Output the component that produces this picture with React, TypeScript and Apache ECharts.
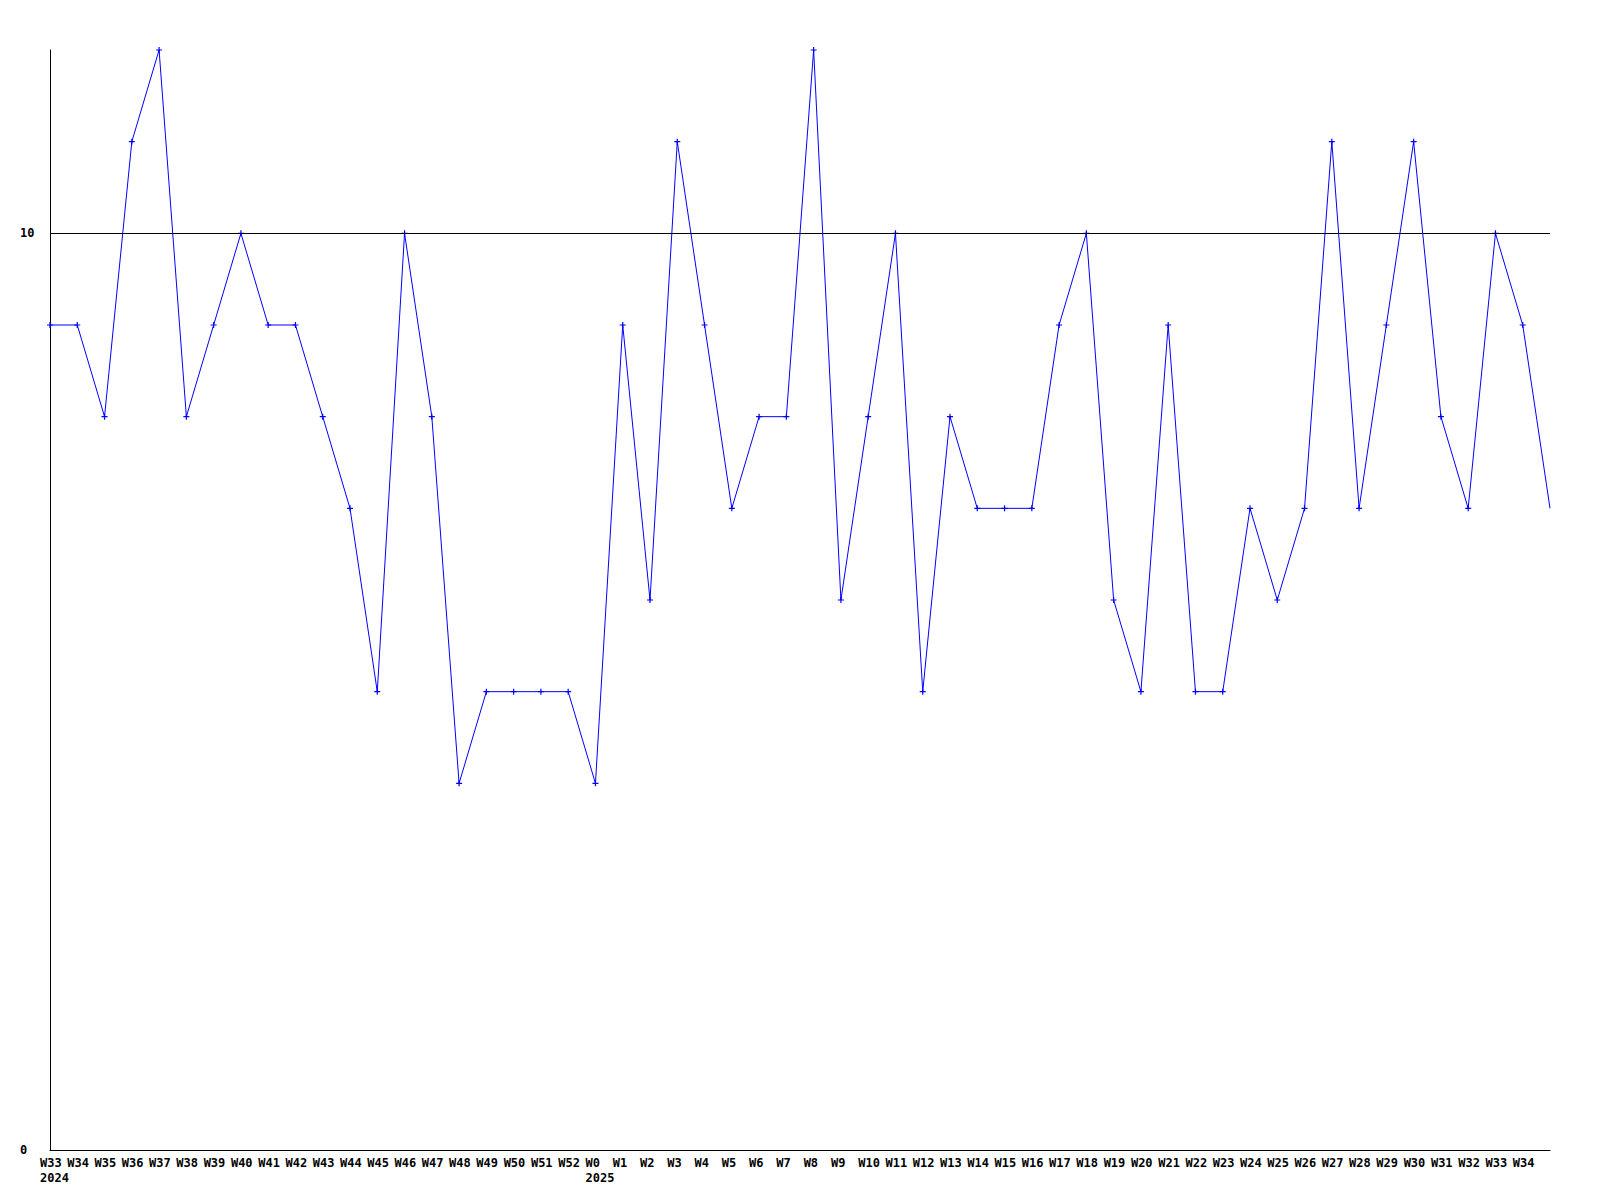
import React, { useEffect, useRef } from "react";
import * as echarts from "echarts";

const weeks = [
  "W33\n2024", "W34", "W35", "W36", "W37", "W38", "W39", "W40", "W41", "W42",
  "W43", "W44", "W45", "W46", "W47", "W48", "W49", "W50", "W51", "W52",
  "W0\n2025", "W1", "W2", "W3", "W4", "W5", "W6", "W7", "W8", "W9",
  "W10", "W11", "W12", "W13", "W14", "W15", "W16", "W17", "W18", "W19",
  "W20", "W21", "W22", "W23", "W24", "W25", "W26", "W27", "W28", "W29",
  "W30", "W31", "W32", "W33", "W34", "",
];

const values = [
  9, 9, 8, 11, 12, 8, 9, 10, 9, 9,
  8, 7, 5, 10, 8, 4, 5, 5, 5, 5,
  4, 9, 6, 11, 9, 7, 8, 8, 12, 6,
  8, 10, 5, 8, 7, 7, 7, 9, 10, 6,
  5, 9, 5, 5, 7, 6, 7, 11, 7, 9,
  11, 8, 7, 10, 9, 7,
];

const yMin = 0;
const yMax = 12;
const yInterval = 10;
const refLine = 10;

export default function App() {
  const ref = useRef<HTMLDivElement>(null);
  useEffect(() => {
    if (!ref.current) return;
    const chart = echarts.init(ref.current, null, { renderer: "svg" });
    const font = "'DejaVu Sans Mono', monospace";
    const data = values.map((v, i) =>
      i === values.length - 1 ? { value: v, symbol: "none" } : v
    );
    chart.setOption({
      animation: false,
      backgroundColor: "#ffffff",
      grid: { left: 50, right: 50, top: 50, bottom: 50, containLabel: false },
      xAxis: {
        type: "category",
        data: weeks,
        boundaryGap: false,
        axisLine: { show: true, lineStyle: { color: "#000", width: 1 } },
        axisTick: { show: false },
        splitLine: { show: false },
        axisLabel: {
          interval: 0,
          align: "left",
          padding: [0, 0, 0, -10],
          margin: 5,
          color: "#000",
          fontFamily: font,
          fontWeight: "bold",
          fontSize: 12,
          lineHeight: 15,
        },
      },
      yAxis: {
        type: "value",
        min: yMin,
        max: yMax,
        interval: yInterval,
        axisLine: { show: true, lineStyle: { color: "#000", width: 1 } },
        axisTick: { show: false },
        splitLine: { show: false },
        axisLabel: {
          showMaxLabel: false,
          align: "left",
          margin: 30,
          color: "#000",
          fontFamily: font,
          fontWeight: "bold",
          fontSize: 12,
        },
      },
      series: [
        {
          type: "line",
          data,
          symbol: "path://M2 0h1v2h2v1h-2v2h-1v-2h-2v-1h2z",
          symbolSize: 6,
          showSymbol: true,
          showAllSymbol: true,
          lineStyle: { color: "#0000ff", width: 1 },
          itemStyle: { color: "#0000ff" },
          markLine: {
            silent: true,
            symbol: "none",
            label: { show: false },
            lineStyle: { color: "#000", width: 1, type: "solid" },
            data: [{ yAxis: refLine }],
          },
        },
      ],
    });
    return () => chart.dispose();
  }, []);
  return (
    <div
      ref={ref}
      style={{ position: "fixed", left: 0, top: 0, width: 1600, height: 1200 }}
    />
  );
}
